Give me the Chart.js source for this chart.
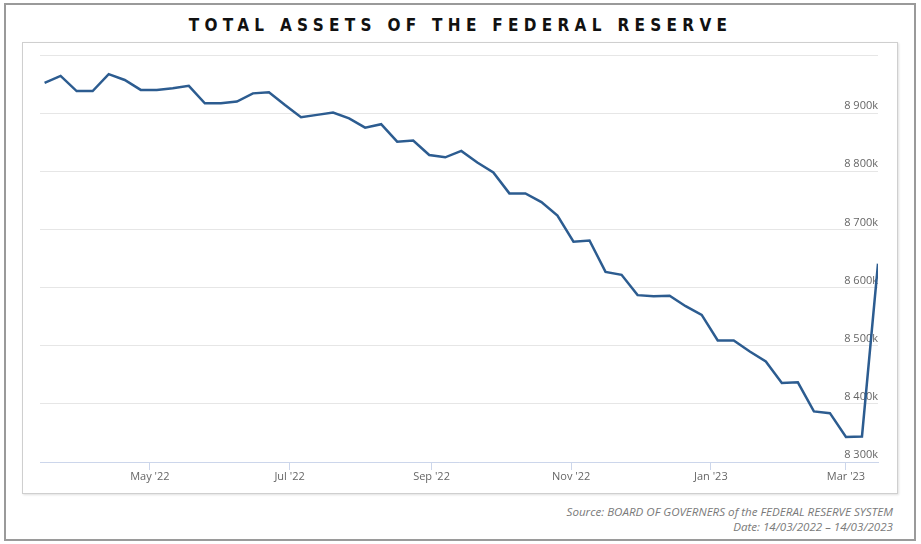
<!DOCTYPE html>
<html>
<head>
<meta charset="utf-8">
<script src="https://cdn.jsdelivr.net/npm/chart.js@4.4.1/dist/chart.umd.min.js"></script>
<style>
  html, body { margin: 0; padding: 0; background: #fff; }
  body { width: 921px; height: 544px; position: relative; overflow: hidden; }
  #frame {
    position: absolute; left: 4px; top: 3px; width: 908px; height: 534px;
    border: 2px solid #9a9a9a;
  }
  #title {
    position: absolute; left: 0; top: 15px; width: 921px; text-align: center;
    font: bold 17px 'Liberation Sans Narrow', 'DejaVu Sans Condensed', 'Liberation Sans', sans-serif;
    letter-spacing: 5.3px; color: #111;
  }
  #box {
    position: absolute; left: 22px; top: 42px; width: 874px; height: 450px;
    border: 1px solid #cfcfcf; box-shadow: 1px 1px 2px rgba(0,0,0,0.12);
  }
  #wrap { position: absolute; left: 0; top: 0; width: 874px; height: 450px; }
  #source {
    position: absolute; right: 28px; top: 504px; text-align: right;
    font: italic 11.6px 'Open Sans', 'Liberation Sans', sans-serif; color: #7a7a7a; line-height: 15px;
  }
</style>
</head>
<body>
<div id="frame"></div>
<div id="title">TOTAL ASSETS OF THE FEDERAL RESERVE</div>
<div id="box"><div id="wrap"><canvas id="assetsChart"></canvas></div></div>
<div id="source">Source: BOARD OF GOVERNERS of the FEDERAL RESERVE SYSTEM<br>Date: 14/03/2022 – 14/03/2023</div>
<script>
// weekly H.4.1 dates (Wednesdays)
const weekDates = [
  '2022-03-16', '2022-03-23', '2022-03-30', '2022-04-06', '2022-04-13', '2022-04-20', '2022-04-27',
  '2022-05-04', '2022-05-11', '2022-05-18', '2022-05-25', '2022-06-01', '2022-06-08', '2022-06-15',
  '2022-06-22', '2022-06-29', '2022-07-06', '2022-07-13', '2022-07-20', '2022-07-27', '2022-08-03',
  '2022-08-10', '2022-08-17', '2022-08-24', '2022-08-31', '2022-09-07', '2022-09-14', '2022-09-21',
  '2022-09-28', '2022-10-05', '2022-10-12', '2022-10-19', '2022-10-26', '2022-11-02', '2022-11-09',
  '2022-11-16', '2022-11-23', '2022-11-30', '2022-12-07', '2022-12-14', '2022-12-21', '2022-12-28',
  '2023-01-04', '2023-01-11', '2023-01-18', '2023-01-25', '2023-02-01', '2023-02-08', '2023-02-15',
  '2023-02-22', '2023-03-01', '2023-03-08', '2023-03-15'
];

// total assets, in thousands (8 952k etc.)
const totalAssets = [
  8952, 8964, 8938, 8938, 8967, 8957, 8940, 8940, 8943, 8947,
  8917, 8917, 8920, 8934, 8936, 8914, 8893, 8897, 8901, 8891,
  8875, 8881, 8851, 8853, 8828, 8824, 8835, 8815, 8798, 8762,
  8762, 8747, 8724, 8679, 8681, 8627, 8622, 8587, 8585, 8586,
  8568, 8553, 8509, 8509, 8490, 8473, 8436, 8437, 8387, 8384,
  8343, 8344, 8641
];

const xTickDates = ['2022-05-01', '2022-07-01', '2022-09-01', '2022-11-01', '2023-01-01', '2023-03-01'];
const xTickLabels = ["May '22", "Jul '22", "Sep '22", "Nov '22", "Jan '23", "Mar '23"];

const yTickValues = [8300, 8400, 8500, 8600, 8700, 8800, 8900, 9000];
const yTickLabels = ['8 300k', '8 400k', '8 500k', '8 600k', '8 700k', '8 800k', '8 900k', ''];

const axisStart = '2022-03-14';
const axisEnd = '2023-03-15';

const dayNum = s => Date.parse(s + 'T00:00:00Z') / 86400000;

const points = weekDates.map((d, i) => ({ x: dayNum(d), y: totalAssets[i] }));
const xTicks = xTickDates.map(dayNum);

const ctx = document.getElementById('assetsChart').getContext('2d');
new Chart(ctx, {
  type: 'line',
  data: {
    datasets: [{
      label: 'Total assets',
      data: points,
      borderColor: '#2c5c90',
      borderWidth: 2.5,
      pointRadius: 0,
      tension: 0,
      fill: false
    }]
  },
  options: {
    responsive: true,
    maintainAspectRatio: false,
    animation: false,
    devicePixelRatio: 1,
    layout: { padding: { left: 17, right: 19, top: 12, bottom: 0 } },
    plugins: {
      legend: { display: false },
      tooltip: { enabled: false },
      title: { display: false }
    },
    scales: {
      x: {
        type: 'linear',
        min: dayNum(axisStart),
        max: dayNum(axisEnd),
        afterBuildTicks: s => { s.ticks = xTicks.map(v => ({ value: v })); },
        afterFit: s => { s.height = 31; },
        border: { display: true, color: '#ccd6eb', width: 1 },
        grid: { drawOnChartArea: false, drawTicks: true, tickLength: 8, color: '#ccd6eb' },
        ticks: {
          padding: 0,
          maxRotation: 0,
          color: '#666',
          font: { family: "'Open Sans', 'Liberation Sans', sans-serif", size: 11 },
          callback: (v) => {
            const i = xTicks.indexOf(v);
            return i >= 0 ? xTickLabels[i] : '';
          }
        }
      },
      y: {
        position: 'right',
        min: 8300,
        max: 9000,
        afterBuildTicks: s => { s.ticks = yTickValues.map(v => ({ value: v })); },
        afterFit: s => { s.width = 0; },
        border: { display: false },
        grid: { color: '#e6e6e6', drawTicks: false, lineWidth: 1 },
        ticks: {
          mirror: true,
          padding: 0,
          labelOffset: -7,
          color: '#666',
          font: { family: "'Open Sans', 'Liberation Sans', sans-serif", size: 11 },
          callback: (v) => {
            const i = yTickValues.indexOf(v);
            return i >= 0 ? yTickLabels[i] : '';
          }
        }
      }
    }
  }
});
</script>
</body>
</html>
